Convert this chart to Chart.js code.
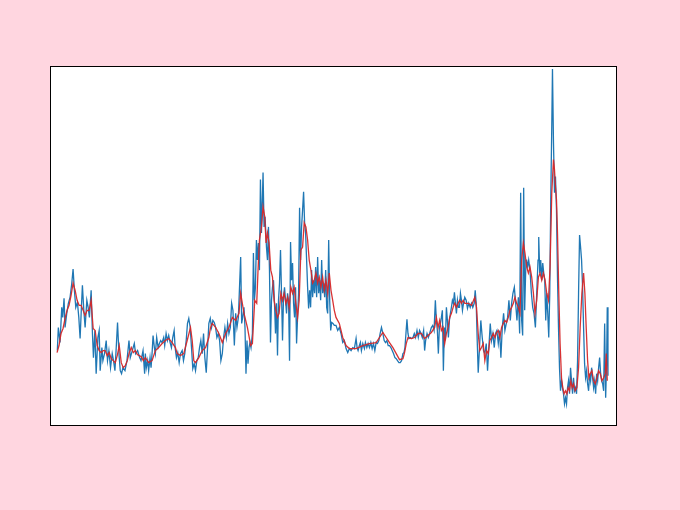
<!DOCTYPE html>
<html>
<head>
<meta charset="utf-8">
<script src="https://cdn.jsdelivr.net/npm/chart.js@4/dist/chart.umd.min.js"></script>
<style>
html,body{margin:0;padding:0;background:#ffd6e0;}
#wrap{width:680px;height:510px;}
</style>
</head>
<body>
<div id="wrap"><canvas id="c" width="680" height="510"></canvas></div>
<script>
// Observed series: [time index, value]
const blueObs = [
[7.3,75],[8.3,98],[10,83],[11.7,118],[12.7,108],[14,127],[15,98],[16.7,112],[18.3,122],[20,128],[21.7,142],[23,156],[24.3,135],[25.7,118],[27.3,123],[28.7,108],[30,87],[31.3,118],[32.3,140],[33.7,115],[35,98],[36.7,125],[38,118],[39.3,108],[41,135],[42.3,92],[43.3,68],[44.7,95],[46,52],[47.7,88],[49,95],[50,55],[51.7,78],[52.7,65],[54.3,72],[56,85],[57.3,65],[58.7,75],[60.3,58],[62,72],[63.3,65],[64.7,55],[66,78],[67.3,103],[68.7,72],[70,55],[71.3,52],[72.7,58],[74.7,55],[76.7,65],[78.7,85],[80,68],[82,75],[84,82],[85.3,72],[87.3,75],[89.3,68],[90.7,65],[92.7,75],[94.3,52],
[95,72],[96,58],[97.3,65],[98.3,55],[99.7,68],[100.7,58],[101.7,72],[102.7,90],[104,78],[105,72],[106.3,88],[107.7,78],[109,82],[110.3,85],[111.7,83],[113.3,88],[114.3,80],[115.7,92],[117,85],[118.3,90],[119.7,83],[121,78],[122.3,88],[123.7,95],[124.7,78],[126,68],[127.3,73],[128.7,63],[130,72],[131.7,75],[133,65],[134.3,72],[135.7,85],[137,102],[138.3,107],[139.7,98],[141,78],[142.3,57],[143.7,62],[145,55],[146.3,65],[147.7,68],[149,78],[150.3,85],[151.7,72],[153,92],[154.3,68],[155.7,53],[157,78],[158.3,102],[159.7,107],[161,98],[162.3,105],[163.7,103],[165,98],[166.3,88],[167.7,92],[169,85],[170.3,65],[171.7,72],[173,88],[174.3,98],[175.7,88],[177,102],[178.3,92],[179.7,98],[181,122],[182.3,115],[183.7,80],[185,112],[186.3,98],[187.7,108],
[190,168],[191,102],[192,108],[193.3,118],[194.3,98],[195.3,52],[196.3,85],[197.3,62],[198.3,78],[199.3,83],[200.3,78],[201.7,92],[202.7,172],[203.7,125],[204.7,138],[205.7,185],[206.7,165],[207.7,182],[208.7,155],[209.7,245],[210.7,192],[211.7,228],[212.3,252],[213.3,198],[214.3,208],[215.7,178],[216.7,165],[217.7,198],[218.7,155],[219.7,83],[220.7,125],[221.7,138],[222.7,145],[223.7,122],[224.7,92],[225.7,122],[226.7,70],[227.7,125],[228.7,142],[229.7,175],[230.7,132],[231.7,85],[232.7,128],[233.7,138],[234.7,125],[235.7,112],[236.7,132],[237.7,125],[238.7,65],[239.7,183],[240.7,145],[241.7,162],[242.7,122],[243.7,108],[244.7,138],[245.7,82],[246.7,108],[247.7,132],[248.7,217],[249.7,165],[250.7,198],[251.7,215],[252.7,233],[253.7,202],[254.7,192],[255.7,165],[256.7,138],[257.7,117],[258.7,135],[259.7,118],[260.7,155],[261.7,128],[262.7,145],[263.7,132],[264.7,158],[265.7,128],[266.7,168],[267.7,132],[268.7,145],[269.7,125],[270.7,165],[271.7,132],[272.7,142],[273.7,128],[274.7,155],[275.7,118],[276.7,112],[277.7,185],[278.7,125],[279.7,95],[280.7,103],[282,102],[283.3,100],
[285,100],[286.7,95],[288.3,98],[290,92],[291.7,83],[293.3,85],[295,77],[296.7,73],[298.3,77],[300,75],[301.7,78],[303.3,77],[305,87],[306,78],[307,75],[308.3,80],[309.3,83],[310.3,75],[311.7,82],[313.3,77],[314.3,83],[315.7,78],[317,82],[318.3,78],[319.7,83],[321,77],[322.3,82],[323.7,75],[325,83],[326.3,82],[327.7,85],[329,92],[330.3,98],[331.7,92],[333,85],[334.3,83],[335.7,85],[337,80],[338.3,80],[339.7,78],[341,75],[342.3,72],[343.7,68],[345,67],[346.3,65],[347.7,63],[349,63],[350.3,65],[351.7,72],[352.7,73],[353.7,78],[354.7,92],[355.7,106],[356.7,92],[357.7,87],[359,88],[360.3,87],[361.7,88],[363,92],[364.3,88],[365.7,95],[367,88],[368.3,95],[369.7,92],[371,88],[372.3,95],[373.3,75],[374.3,85],[375.7,92],[377,88],[378.3,92],[380,98],
[381.3,100],[382.7,95],[384,125],[385,105],[386,95],[387,72],[388,98],[389,102],[390,108],[391,115],[392,55],[393,98],[394,85],[395,118],[396,105],[397,88],[398,105],[399,112],[400,118],[401,125],[402,122],[403,133],[404,122],[405,112],[406,125],[407,118],[408,118],[409,132],[410,125],[411,115],[412,122],[413.3,128],[414.7,125],[416,117],[417.3,122],[418.7,118],[420,122],[421.3,118],[422.7,122],[423.7,135],[424.7,122],[425.7,85],[426.7,53],[428,78],[429.3,105],[430.7,88],[432,75],[433.3,72],[434.7,82],[436,55],[437.3,78],[438.7,102],[440,85],[441.3,92],[442.7,78],[444,92],[445.3,95],[446.7,82],[448,95],[449.3,68],[450.7,98],[452,112],[453.3,95],[454.7,102],[456,108],[457.3,125],[458.7,105],[460,122],[461.3,132],[462.7,138],[464,122],[465.3,105],[466.7,128],[468,92],[469,232],[470,105],[471,90],[472,237],[473,115],[474.3,165],
[475,165],[476,158],[477,165],[478.3,155],[479.7,132],[481,118],[482.3,112],[483.7,98],[485,132],[486.3,165],[487,188],[488,152],[489,165],[490,145],[491,162],[492,152],[493,145],[494,105],[495,132],[496,112],[497,88],[498,132],[499,225],[500,298],[500.7,355],[501.7,282],[502.7,232],[503.7,248],[504.7,215],[505.7,148],[506.7,98],[507.7,58],[508.7,35],[509.7,45],[510.7,38],[511.7,32],[512.7,22],[513.7,28],[514.7,22],[515.7,38],[516.7,45],[517.7,32],[518.7,58],[519.7,45],[520.7,32],[521.7,48],[522.7,35],[523.7,38],[524.7,32],[525.7,65],[526.7,132],[527.7,190],[528.7,178],[529.7,165],[530.7,138],[531.7,98],[532.7,62],[533.7,48],[534.7,55],[535.7,42],[536.7,35],[537.7,52],[538.7,45],[539.7,58],[540.7,48],[541.7,38],[542.7,45],[543.7,32],[544.7,52],[545.7,45],[546.7,58],[547.7,68],[548.7,52],[549.7,45],[550.7,42],[551.7,35],[552.7,102],[553.7,28],[554.7,65],[555.3,118],[556,50]
];

// Smoothed series: [time index, value]
const redSmooth = [
[7,73],[9,80],[11,92],[13,97],[15,107],[17,115],[19,120],[21,130],[23,142],[25,135],[27,125],[29,120],[31,120],[33,115],[35,110],[37,115],[39,115],[41,125],[43,97],[45,95],[47,80],[49,75],[51,73],[53,75],[55,75],[57,70],[59,73],[61,67],[63,65],[65,63],[67,70],[69,80],[71,63],[73,58],[75,60],[77,65],[79,73],[81,78],[83,73],[85,75],[87,71],[89,70],[91,69],[93,65],
[95,68],[98.3,63],[101.7,65],[105,75],[108.3,78],[111.7,82],[115,85],[118.3,87],[121.7,83],[125,78],[126.7,72],[130,70],[133.3,72],[136.7,85],[140,98],[141.7,85],[143.3,65],[145,63],[148.3,68],[151.7,75],[155,78],[158.3,88],[160,98],[161.7,102],[165,98],[166.7,95],[168.3,92],[171.7,83],[175,92],[178.3,98],[181.7,108],[185,105],[188.3,112],[190,132],
[193.3,112],[196.7,98],[200,80],[201.7,82],[204,125],[206,122],[207.3,155],[208.7,185],[210.7,198],[212.3,218],[214,208],[215.3,182],[216.7,192],[218.3,182],[220,155],[221.7,148],[223.3,125],[225,115],[226.7,108],[228.3,112],[230,132],[231.7,125],[233.3,132],[235,122],[236.7,128],[238.3,118],[240,138],[241.7,132],[243.3,138],[245,122],[246.7,108],[248.3,125],[250,175],[251.7,178],[253.3,202],[255,198],[256.7,185],[258.3,165],[260,155],[261.7,142],[263.3,145],[265,152],[266.7,142],[268.3,148],[270,138],[271.7,148],[273.3,135],[275,145],[276.7,132],[278.3,152],[280,135],[281.7,125],[283.3,115],[285,108],
[288.3,102],[290,95],[291.7,88],[295,80],[298.3,77],[305,77],[311.7,80],[318.3,82],[325,83],[328.3,88],[331.7,93],[335,88],[338.3,83],[341.7,78],[345,72],[348.3,66],[351.7,67],[353.3,73],[355,82],[356.7,88],[360,87],[363.3,88],[366.7,92],[370,92],[373.3,87],[376.7,90],[380,93],
[383.3,98],[385,108],[386.7,98],[388.3,105],[390,95],[391.7,98],[393.3,82],[395,92],[396.7,98],[398.3,108],[400,112],[401.7,118],[403.3,122],[405,118],[406.7,122],[408.3,125],[410,122],[411.7,125],[413.3,122],[416.7,122],[420,120],[423.3,128],[425,118],[426.7,92],[428.3,75],[430,78],[431.7,82],[433.3,65],[435,75],[436.7,72],[438.3,85],[440,88],[441.7,92],[443.3,88],[445,93],[446.7,95],[448.3,88],[450,98],[451.7,102],[453.3,105],[455,103],[456.7,108],[458.3,115],[460,118],[461.7,122],[463.3,128],[465,122],[466.7,118],[468.3,112],[470,165],[471.7,182],[473.3,172],
[475,158],[476.7,152],[478.3,158],[480,148],[481.7,132],[483.3,112],[485,125],[486.7,148],[488.3,152],[490,145],[491.7,152],[493.3,145],[495,132],[496.7,125],[498.3,158],[500,232],[501.7,265],[502.7,255],[503.7,238],[504.7,225],[505.7,192],[507,132],[508.3,82],[509.7,48],[511,38],[512.3,32],[513.7,35],[515,32],[516.3,38],[517.7,35],[519,45],[520.3,38],[521.7,42],[523.3,35],[525,38],[526.7,58],[528.3,98],[530,132],[531.7,152],[533,132],[534.3,98],[535.7,65],[537,48],[538.3,52],[540,55],[541.7,45],[543.3,42],[545,48],[546.7,55],[548.3,52],[550,45],[551.7,48],[553.3,52],[554.3,72],[555.3,45]
];

const xRange = [0, 565];
const yRange = [0, 358];

const toPoints = arr => arr.map(p => ({x: p[0], y: p[1]}));

const frame = {
  id: 'frame',
  beforeDatasetsDraw(chart) {
    const {ctx, chartArea: a} = chart;
    ctx.save();
    ctx.fillStyle = '#ffffff';
    ctx.fillRect(a.left, a.top, a.right - a.left, a.bottom - a.top);
    ctx.restore();
  },
  afterDatasetsDraw(chart) {
    const {ctx, chartArea: a} = chart;
    ctx.save();
    ctx.strokeStyle = '#000000';
    ctx.lineWidth = 1;
    ctx.strokeRect(a.left + 0.5, a.top + 0.5, a.right - a.left - 1, a.bottom - a.top - 1);
    ctx.restore();
  }
};

new Chart(document.getElementById('c'), {
  type: 'line',
  data: {
    datasets: [
      {
        label: 'observed',
        data: toPoints(blueObs),
        borderColor: '#1f77b4',
        borderWidth: 1.3,
        pointRadius: 0,
        tension: 0,
        fill: false,
        order: 2
      },
      {
        label: 'smoothed',
        data: toPoints(redSmooth),
        borderColor: 'rgba(214,39,40,0.95)',
        borderWidth: 1.3,
        pointRadius: 0,
        tension: 0,
        fill: false,
        order: 1
      }
    ]
  },
  options: {
    responsive: false,
    animation: false,
    devicePixelRatio: 1,
    layout: { padding: { left: 50, top: 66, right: 63, bottom: 84 } },
    plugins: { legend: { display: false }, tooltip: { enabled: false } },
    scales: {
      x: { type: 'linear', min: xRange[0], max: xRange[1], display: false },
      y: { type: 'linear', min: yRange[0], max: yRange[1], display: false }
    }
  },
  plugins: [frame]
});
</script>
</body>
</html>
